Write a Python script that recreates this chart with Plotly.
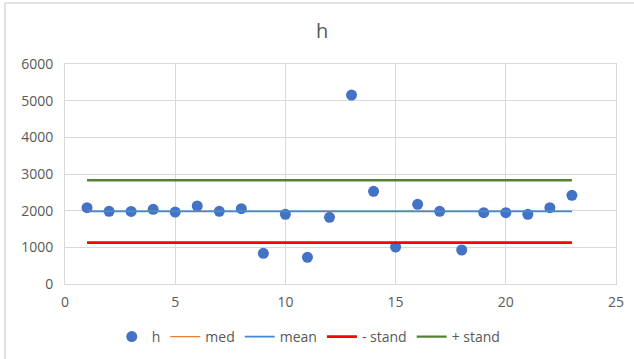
import plotly.graph_objects as go

# Measurements of h, one per sample index
idx = list(range(1, 24))
h = [2081, 1982, 1980, 2037, 1963, 2127, 1982, 2054, 836, 1900, 727, 1818, 5154,
     2527, 1009, 2173, 1982, 927, 1945, 1945, 1900, 2081, 2418]

# Reference levels (median, mean, mean - std, mean + std)
med_val = 1982
mean_val = 1982
minus_std = 1130
plus_std = 2830

levels = [
    ("med", med_val, "#ED7D31", 1.4),
    ("mean", mean_val, "#3C8AD8", 1.7),
    ("- stand", minus_std, "#FF0000", 2.8),
    ("+ stand", plus_std, "#548235", 2.4),
]

fig = go.Figure()
fig.add_trace(go.Scatter(
    x=idx, y=h, mode="markers", name="h",
    marker=dict(color="#4472C4", size=11),
))
for name, val, color, w in levels:
    fig.add_trace(go.Scatter(
        x=[idx[0], idx[-1]], y=[val, val], mode="lines", name=name,
        line=dict(color=color, width=w),
    ))

grid = "#D9D9D9"
tick_font = dict(family="Open Sans, Liberation Sans, sans-serif", size=14, color="#595959")

fig.update_layout(
    width=634, height=359,
    margin=dict(l=65, r=18, t=64, b=75, autoexpand=False),
    paper_bgcolor="white", plot_bgcolor="white",
    title=dict(text="h", x=0.508, xanchor="center", y=1 - 31 / 359, yanchor="middle",
               yref="container",
               font=dict(family="Open Sans, Liberation Sans, sans-serif", size=20, color="#595959")),
    xaxis=dict(range=[0, 25], dtick=5, showgrid=True, gridcolor=grid, gridwidth=1,
               zeroline=False, showline=True, linecolor=grid, mirror=True, automargin=False,
               ticks="", tickfont=tick_font, ticklabelstandoff=5),
    yaxis=dict(range=[0, 6000], dtick=1000, showgrid=True, gridcolor=grid, gridwidth=1,
               zeroline=False, showline=True, linecolor=grid, mirror=True, automargin=False,
               ticks="", tickfont=tick_font, ticklabelstandoff=8),
    legend=dict(orientation="h", xref="container", yref="container",
                x=0.487, xanchor="center", y=1 - 337 / 359, yanchor="middle",
                font=dict(family="Open Sans, Liberation Sans, sans-serif", size=14, color="#595959"),
                itemwidth=30, tracegroupgap=0),
    showlegend=True,
)

# Chart-area border along the left and top of the page
fig.add_shape(type="line", xref="paper", yref="paper",
              x0=-60 / 551, x1=-60 / 551, y0=1 + 61 / 220, y1=-80 / 220,
              line=dict(color="#D9D9D9", width=1.5))
fig.add_shape(type="line", xref="paper", yref="paper",
              x0=-60 / 551, x1=1 + 20 / 551, y0=1 + 61 / 220, y1=1 + 61 / 220,
              line=dict(color="#D9D9D9", width=1.5))

fig.write_html("out.html")
